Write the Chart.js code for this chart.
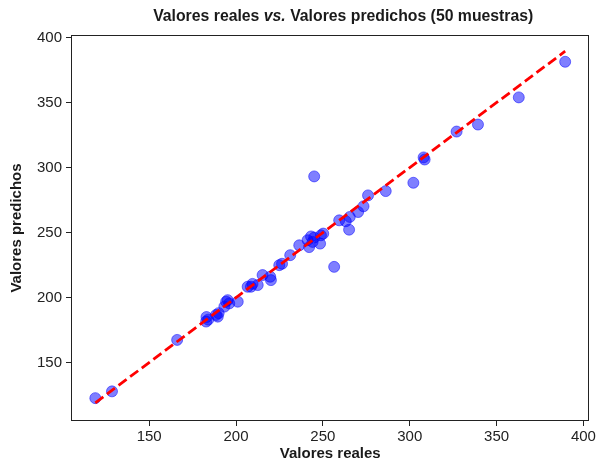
<!DOCTYPE html>
<html>
<head>
<meta charset="utf-8">
<script src="https://cdn.jsdelivr.net/npm/chart.js@4/dist/chart.umd.min.js"></script>
<style>
html,body{margin:0;padding:0;background:#fff;}
#wrap{width:598px;height:461px;position:relative;}
</style>
</head>
<body>
<div id="wrap"><canvas id="c" width="598" height="461"></canvas></div>
<script>
// Data
const realValues = [119.0,128.6,166.1,182.8,183.0,188.5,189.5,190.0,193.3,195.2,196.1,194.3,201.0,206.7,208.6,212.5,215.3,219.7,220.1,224.9,231.2,236.4,241.2,242.1,244.1,245.0,245.0,248.4,248.9,250.2,256.5,259.4,263.2,265.5,265.1,270.3,273.4,276.0,286.2,302.1,308.6,308.0,327.0,339.3,362.8,389.5,243.2,209.5,184.0,226.5];
const predValues = [122.6,127.8,167.4,181.5,185.0,186.6,185.3,188.0,193.0,198.0,195.5,196.8,196.8,208.3,208.3,209.6,217.3,216.0,213.4,224.9,232.6,240.2,244.1,238.8,242.8,246.1,293.2,241.5,247.9,249.2,223.6,259.4,258.7,262.0,252.2,265.8,270.2,278.6,281.9,288.3,306.2,307.8,327.7,333.1,354.0,381.4,247.0,210.5,183.0,226.0];
const xTickValues = [150,200,250,300,350,400];
const yTickValues = [150,200,250,300,350,400];
const titleParts = ["Valores reales ", "vs.", " Valores predichos (50 muestras)"];
const xLabel = "Valores reales";
const yLabel = "Valores predichos";

const minReal = Math.min(...realValues);
const maxReal = Math.max(...realValues);
const lineData = [{x:minReal,y:minReal},{x:maxReal,y:maxReal}];
const scatterData = realValues.map((v,i)=>({x:v,y:predValues[i]}));

const FONT = "'Liberation Sans', Arial, sans-serif";

const framePlugin = {
  id:'frame',
  afterDraw(chart){
    const {ctx, chartArea:a} = chart;
    ctx.save();
    ctx.strokeStyle = '#222';
    ctx.lineWidth = 1;
    ctx.strokeRect(Math.round(a.left)+0.5, Math.round(a.top)+0.5, Math.round(a.right-a.left)-1, Math.round(a.bottom-a.top)-1);
    // title
    ctx.fillStyle = '#1a1a1a';
    ctx.textBaseline = 'middle';
    const fonts = ["bold 15.8px "+FONT, "italic bold 15.8px "+FONT, "bold 15.8px "+FONT];
    let widths = titleParts.map((t,i)=>{ctx.font=fonts[i];return ctx.measureText(t).width;});
    const total = widths.reduce((s,w)=>s+w,0);
    let x = (a.left+a.right)/2 + 13 - total/2;
    titleParts.forEach((t,i)=>{ctx.font=fonts[i];ctx.textAlign='left';ctx.fillText(t,x,17);x+=widths[i];});
    ctx.restore();
  }
};

new Chart(document.getElementById('c'), {
  type:'scatter',
  data:{datasets:[
    {type:'line', data:lineData, borderColor:'rgba(255,0,0,1)', borderWidth:2.8, borderDash:[10,4.5], pointRadius:0, fill:false, tension:0},
    {type:'scatter', data:scatterData, backgroundColor:'rgba(0,0,255,0.5)', borderColor:'rgba(0,0,255,0.5)', borderWidth:1, pointRadius:5.5}
  ]},
  options:{
    responsive:false, animation:false,
    layout:{padding:{left:0,top:35,right:7,bottom:0}},
    plugins:{legend:{display:false}, tooltip:{enabled:false}, title:{display:false}},
    scales:{
      x:{type:'linear', min:105, max:403.5,
        afterBuildTicks(s){s.ticks = xTickValues.map(v=>({value:v}));},
        afterFit(s){s.height = 40;},
        grid:{drawOnChartArea:false, drawTicks:true, tickLength:5, color:'#222', lineWidth:1},
        border:{display:false},
        ticks:{font:{family:FONT,size:15}, color:'#222', padding:2, maxRotation:0, autoSkip:false},
        title:{display:true, text:xLabel, font:{family:FONT,size:15,weight:'bold'}, color:'#1a1a1a', padding:{top:0,bottom:-2}}
      },
      y:{type:'linear', min:105, max:402,
        afterBuildTicks(s){s.ticks = yTickValues.map(v=>({value:v}));},
        afterFit(s){s.width = 71;},
        grid:{drawOnChartArea:false, drawTicks:true, tickLength:5, color:'#222', lineWidth:1},
        border:{display:false},
        ticks:{font:{family:FONT,size:15}, color:'#222', padding:4, autoSkip:false},
        title:{display:true, text:yLabel, font:{family:FONT,size:15,weight:'bold'}, color:'#1a1a1a', padding:{top:8,bottom:0}}
      }
    }
  },
  plugins:[framePlugin]
});
</script>
</body>
</html>
